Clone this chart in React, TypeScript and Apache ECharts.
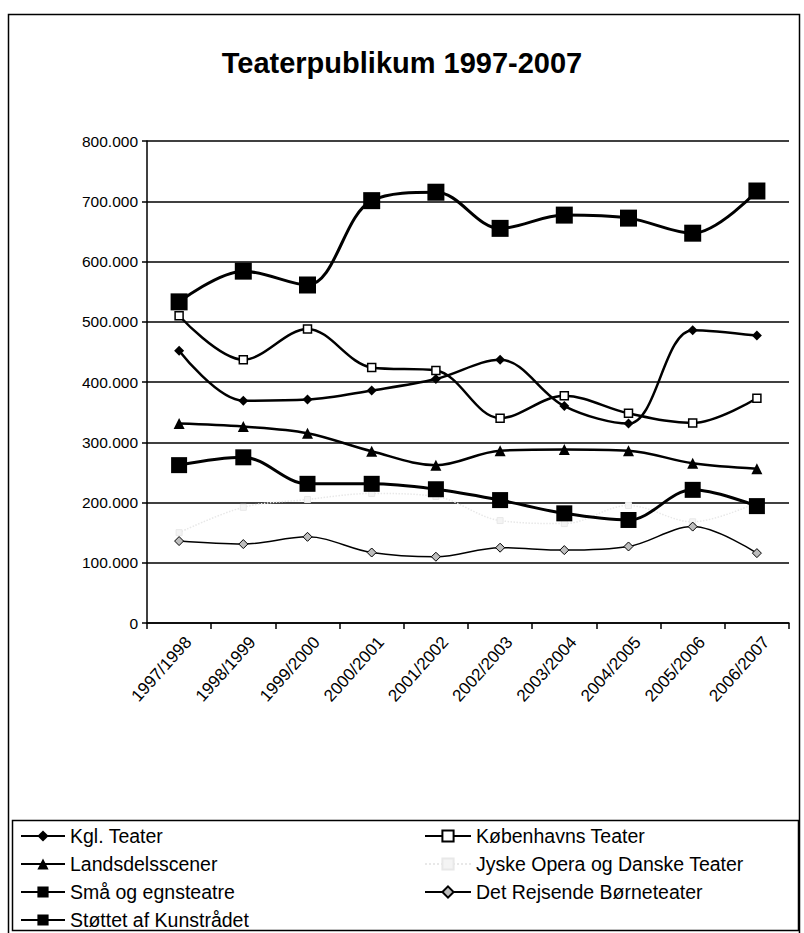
import React, { useEffect, useRef } from "react";
import * as echarts from "echarts";

const categories = [
  "1997/1998", "1998/1999", "1999/2000", "2000/2001", "2001/2002",
  "2002/2003", "2003/2004", "2004/2005", "2005/2006", "2006/2007",
];
const kglTeater = [452000, 369000, 371000, 386000, 405000, 437000, 360000, 331000, 486000, 477000];
const kbhTeater = [510000, 437000, 488000, 424000, 419000, 340000, 377000, 348000, 332000, 373000];
const landsdelsscener = [331000, 326000, 315000, 285000, 262000, 286000, 288000, 286000, 265000, 256000];
const jyskeOpera = [150000, 192000, 205000, 215000, 210000, 170000, 165000, 195000, 168000, 200000];
const smaaEgnsteatre = [262000, 275000, 231000, 231000, 222000, 204000, 182000, 171000, 221000, 194000];
const boerneteater = [136000, 131000, 143000, 117000, 110000, 125000, 121000, 127000, 160000, 116000];
const stoettet = [533000, 584000, 561000, 701000, 715000, 655000, 677000, 672000, 647000, 717000];
const yTicks = { min: 0, max: 800000, interval: 100000 };

const FONT = "Liberation Sans, Arial, sans-serif";

function fmt(v: number): string {
  if (v === 0) return "0";
  const s = String(Math.round(v));
  return s.replace(/\B(?=(\d{3})+(?!\d))/g, ".");
}

export default function App() {
  const ref = useRef<HTMLDivElement>(null);
  useEffect(() => {
    if (!ref.current) return;
    const chart = echarts.init(ref.current, null, { renderer: "svg" });
    const smooth = 0.35;
    const black = "#000";
    const legendText = { fontFamily: FONT, fontSize: 19.5, color: black, lineHeight: 19 };
    chart.setOption({
      animation: false,
      backgroundColor: "#fff",
      title: {
        text: "Teaterpublikum 1997-2007",
        left: "center",
        top: 43,
        textStyle: { fontFamily: FONT, fontSize: 29, fontWeight: "bold", color: black },
      },
      graphic: [
        {
          type: "rect",
          shape: { x: 8.5, y: 14.5, width: 791, height: 940 },
          style: { fill: "none", stroke: black, lineWidth: 1.5 },
          silent: true,
        },
        {
          type: "rect",
          shape: { x: 12.5, y: 820.5, width: 786, height: 110 },
          style: { fill: "none", stroke: black, lineWidth: 1.5 },
          silent: true,
        },
      ],
      legend: [
        {
          orient: "vertical",
          left: 20,
          top: 826,
          height: 110,
          padding: 0,
          itemWidth: 44,
          itemHeight: 14,
          itemGap: 8,
          textStyle: legendText,
          data: ["Kgl. Teater", "Landsdelsscener", "Små og egnsteatre", "Støttet af Kunstrådet"],
        },
        {
          orient: "vertical",
          left: 424,
          top: 826,
          height: 110,
          padding: 0,
          itemWidth: 46,
          itemHeight: 14,
          itemGap: 8,
          textStyle: legendText,
          data: ["Københavns Teater", "Jyske Opera og Danske Teater", "Det Rejsende Børneteater"],
        },
      ],
      grid: { left: 147, right: 15, top: 141, bottom: 310, containLabel: false },
      xAxis: {
        type: "category",
        data: categories,
        boundaryGap: true,
        axisLine: { lineStyle: { color: black, width: 1.5 } },
        axisTick: { show: true, length: 6, lineStyle: { color: black, width: 1.5 } },
        axisLabel: {
          rotate: 48,
          interval: 0,
          margin: 8,
          verticalAlign: "top",
          padding: [4, 0, 0, 0],
          fontFamily: FONT,
          fontSize: 17,
          color: black,
        },
      },
      yAxis: {
        type: "value",
        min: yTicks.min,
        max: yTicks.max,
        interval: yTicks.interval,
        axisLine: { show: true, lineStyle: { color: black, width: 1.5 } },
        axisTick: { show: true, length: 5, lineStyle: { color: black, width: 1.5 } },
        axisLabel: {
          formatter: (v: number) => fmt(v),
          fontFamily: FONT,
          fontSize: 15.5,
          color: black,
          margin: 9,
        },
        splitLine: { show: true, lineStyle: { color: black, width: 1.5 } },
      },
      series: [
        {
          name: "Kgl. Teater",
          type: "line",
          data: kglTeater,
          smooth,
          symbol: "diamond",
          symbolSize: 10,
          lineStyle: { color: black, width: 2.5 },
          itemStyle: { color: black },
          z: 5,
        },
        {
          name: "Københavns Teater",
          type: "line",
          data: kbhTeater,
          smooth,
          symbol: "rect",
          symbolSize: 8,
          lineStyle: { color: black, width: 2.5 },
          itemStyle: { color: "#fff", borderColor: black, borderWidth: 1.5 },
          z: 5,
        },
        {
          name: "Landsdelsscener",
          type: "line",
          data: landsdelsscener,
          smooth,
          symbol: "triangle",
          symbolSize: 11,
          lineStyle: { color: black, width: 2.5 },
          itemStyle: { color: black },
          z: 5,
        },
        {
          name: "Jyske Opera og Danske Teater",
          type: "line",
          data: jyskeOpera,
          smooth,
          symbol: "rect",
          symbolSize: 6,
          lineStyle: { color: "#e8e8e8", width: 1.5, type: "dotted" },
          itemStyle: { color: "#f4f4f4", borderColor: "#e8e8e8", borderWidth: 1 },
          z: 3,
        },
        {
          name: "Små og egnsteatre",
          type: "line",
          data: smaaEgnsteatre,
          smooth,
          symbol: "rect",
          symbolSize: 16,
          lineStyle: { color: black, width: 3 },
          itemStyle: { color: black },
          z: 5,
        },
        {
          name: "Det Rejsende Børneteater",
          type: "line",
          data: boerneteater,
          smooth,
          symbol: "diamond",
          symbolSize: 9,
          lineStyle: { color: black, width: 1.5 },
          itemStyle: { color: "#bdbdbd", borderColor: black, borderWidth: 1 },
          z: 5,
        },
        {
          name: "Støttet af Kunstrådet",
          type: "line",
          data: stoettet,
          smooth,
          symbol: "rect",
          symbolSize: 17,
          lineStyle: { color: black, width: 3 },
          itemStyle: { color: black },
          z: 5,
        },
      ],
    });
    return () => chart.dispose();
  }, []);
  return (
    <div
      ref={ref}
      style={{ position: "absolute", left: 0, top: 0, width: 804, height: 933 }}
    />
  );
}
